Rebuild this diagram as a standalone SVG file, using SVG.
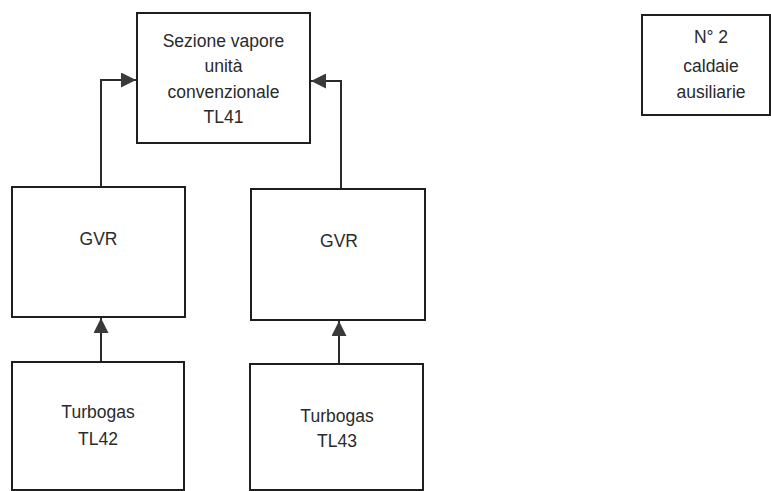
<svg xmlns="http://www.w3.org/2000/svg" width="771" height="491" viewBox="0 0 771 491">
<style>
.box{fill:#fff;stroke:#1e1e1e;stroke-width:2}
.lbl{font-family:"Liberation Sans",Arial,sans-serif;font-size:17.5px;fill:#2a2a2a;text-anchor:middle}
.conn{fill:none;stroke:#2a2a2a;stroke-width:2}
</style>
<defs>
<marker id="arr" markerUnits="userSpaceOnUse" markerWidth="15" markerHeight="15" refX="15" refY="7.5" orient="auto">
<path d="M0,0 L15,7.5 L0,15 Z" fill="#3a3a3a"/>
</marker>
</defs>
<rect width="771" height="491" fill="#fff"/>
<g id="connectors">
<path class="conn" d="M101,187 V80 H136" marker-end="url(#arr)"/>
<path class="conn" d="M341,189 V81 H311" marker-end="url(#arr)"/>
<path class="conn" d="M101,362 V318" marker-end="url(#arr)"/>
<path class="conn" d="M339,364 V321" marker-end="url(#arr)"/>
</g>
<g id="sezione-vapore">
<rect class="box" x="137" y="13" width="173" height="130"/>
<text class="lbl" x="223.5" y="47">Sezione vapore</text>
<text class="lbl" x="223.5" y="72">unità</text>
<text class="lbl" x="223.5" y="98">convenzionale</text>
<text class="lbl" x="223.5" y="123">TL41</text>
</g>
<g id="caldaie">
<rect class="box" x="642" y="15" width="128" height="100"/>
<text class="lbl" x="711" y="43">N° 2</text>
<text class="lbl" x="711" y="72">caldaie</text>
<text class="lbl" x="711" y="98">ausiliarie</text>
</g>
<g id="gvr-left">
<rect class="box" x="12" y="187" width="173" height="130"/>
<text class="lbl" x="98.5" y="245">GVR</text>
</g>
<g id="gvr-right">
<rect class="box" x="251" y="189" width="174" height="131"/>
<text class="lbl" x="339" y="247">GVR</text>
</g>
<g id="turbogas-tl42">
<rect class="box" x="12" y="362" width="172" height="128"/>
<text class="lbl" x="98" y="418">Turbogas</text>
<text class="lbl" x="98" y="445">TL42</text>
</g>
<g id="turbogas-tl43">
<rect class="box" x="250" y="364" width="173" height="126"/>
<text class="lbl" x="337" y="422">Turbogas</text>
<text class="lbl" x="337" y="447">TL43</text>
</g>
</svg>
